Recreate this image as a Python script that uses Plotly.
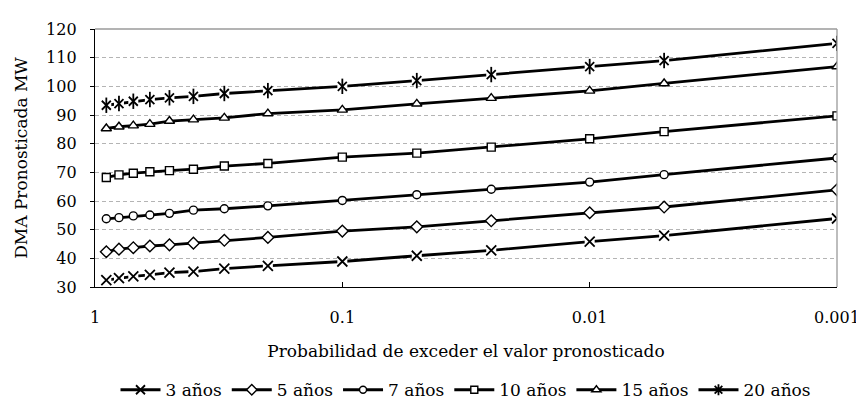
import plotly.graph_objects as go

prob = [0.9, 0.8, 0.7, 0.6, 0.5, 0.4, 0.3, 0.2, 0.1, 0.05, 0.025, 0.01, 0.005, 0.001]

y_3 = [32.4, 33.1, 33.7, 34.2, 35.0, 35.4, 36.4, 37.4, 38.9, 40.9, 42.8, 45.8, 47.9, 53.9]
y_5 = [42.3, 43.2, 43.7, 44.3, 44.7, 45.3, 46.3, 47.3, 49.5, 51.0, 53.1, 55.9, 57.9, 63.9]
y_7 = [53.8, 54.2, 54.8, 55.1, 55.7, 56.8, 57.3, 58.3, 60.2, 62.2, 64.1, 66.6, 69.2, 75.0]
y_10 = [68.2, 69.1, 69.7, 70.2, 70.6, 71.1, 72.2, 73.1, 75.3, 76.7, 78.8, 81.7, 84.2, 89.7]
y_15 = [85.3, 85.9, 86.3, 86.8, 87.9, 88.4, 89.0, 90.5, 91.8, 93.9, 95.9, 98.4, 101.0, 106.9]
y_20 = [93.4, 94.0, 94.8, 95.4, 96.0, 96.5, 97.5, 98.5, 100.0, 102.0, 104.1, 106.9, 109.0, 115.0]

series_names = ["3 años", "5 años", "7 años", "10 años", "15 años", "20 años"]
series_values = [y_3, y_5, y_7, y_10, y_15, y_20]
series_symbols = ["x-thin-open", "diamond-open", "circle-open", "square-open", "triangle-up-open", "asterisk-open"]

tick_vals = [1, 0.1, 0.01, 0.001]
tick_text = ["1", "0.1", "0.01", "0.001"]
y_ticks = [30, 40, 50, 60, 70, 80, 90, 100, 110, 120]

FONT = "DejaVu Serif"
BLACK = "#000000"

sym_style = {
    "x-thin-open": dict(size=10, fill=None, lw=1.8),
    "diamond-open": dict(size=9, fill="white", lw=1.4),
    "circle-open": dict(size=8, fill="white", lw=1.4),
    "square-open": dict(size=8, fill="white", lw=1.4),
    "triangle-up-open": dict(size=9, fill="white", lw=1.4),
    "asterisk-open": dict(size=10, fill=None, lw=1.8),
}

fig = go.Figure()

# lines
for name, vals in zip(series_names, series_values):
    fig.add_trace(go.Scatter(x=prob, y=vals, mode="lines", line=dict(color=BLACK, width=2.8),
                             showlegend=False, hoverinfo="skip"))

# markers
for name, vals, sym in zip(series_names, series_values, series_symbols):
    st = sym_style[sym]
    if st["fill"] is None:
        fig.add_trace(go.Scatter(x=prob, y=vals, mode="markers",
                                 marker=dict(symbol="square", size=10, color="white", line=dict(width=0)),
                                 showlegend=False, hoverinfo="skip"))
        if sym == "asterisk-open":
            fig.add_trace(go.Scatter(x=prob, y=vals, mode="markers",
                                     marker=dict(symbol="x-thin-open", size=9, color=BLACK,
                                                 line=dict(color=BLACK, width=st["lw"])),
                                     showlegend=False, hoverinfo="skip"))
            fig.add_trace(go.Scatter(x=prob, y=vals, mode="markers",
                                     marker=dict(symbol="line-ns-open", size=11, color=BLACK,
                                                 line=dict(color=BLACK, width=st["lw"])),
                                     showlegend=False, hoverinfo="skip"))
            continue
        fig.add_trace(go.Scatter(x=prob, y=vals, mode="markers",
                                 marker=dict(symbol=sym, size=st["size"], color=BLACK,
                                             line=dict(color=BLACK, width=st["lw"])),
                                 showlegend=False))
    else:
        base = sym.replace("-open", "")
        fig.add_trace(go.Scatter(x=prob, y=vals, mode="markers",
                                 marker=dict(symbol=base, size=st["size"], color="white",
                                             line=dict(color=BLACK, width=st["lw"])),
                                 showlegend=False))

# legend entries
for name, sym in zip(series_names, series_symbols):
    st = sym_style[sym]
    if st["fill"] is None:
        mk = dict(symbol=sym, size=st["size"] - 1, color=BLACK, line=dict(color=BLACK, width=st["lw"]))
    else:
        mk = dict(symbol=sym.replace("-open", ""), size=st["size"] - 1, color="white",
                  line=dict(color=BLACK, width=st["lw"]))
    fig.add_trace(go.Scatter(x=[None], y=[None], mode="lines+markers", name=name,
                             line=dict(color=BLACK, width=2.8), marker=mk))

fig.update_layout(
    width=864, height=412,
    margin=dict(l=87, r=26, t=15, b=129),
    paper_bgcolor="white", plot_bgcolor="white",
    font=dict(family=FONT, size=16, color=BLACK),
    legend=dict(orientation="h", x=0.5, xanchor="center", y=-0.40, yanchor="middle",
                font=dict(family=FONT, size=17), itemwidth=40, tracegroupgap=0,
                bgcolor="rgba(0,0,0,0)"),
    xaxis=dict(type="log", range=[0, -3], tickvals=tick_vals, ticktext=tick_text,
               ticks="inside", ticklen=5, tickcolor=BLACK, tickwidth=1,
               showline=True, linecolor=BLACK, linewidth=1.3, showgrid=False, zeroline=False,
               ticklabelstandoff=16, tickfont=dict(family=FONT, size=16),
               title=dict(text="Probabilidad de exceder el valor pronosticado", standoff=18,
                          font=dict(family=FONT, size=17))),
    yaxis=dict(range=[30, 120], tickvals=y_ticks, ticks="outside", ticklen=4, tickcolor=BLACK,
               showline=True, linecolor=BLACK, linewidth=1.3, zeroline=False,
               ticklabelstandoff=10, tickfont=dict(family=FONT, size=16),
               showgrid=True, gridcolor="#b4b4b4", gridwidth=1, griddash="4px,3px",
               title=dict(text="DMA Pronosticada MW", standoff=14, font=dict(family=FONT, size=17))),
    shapes=[
        dict(type="line", xref="paper", yref="paper", x0=0, x1=1, y0=1, y1=1,
             line=dict(color="#9a9a9a", width=1.3)),
        dict(type="line", xref="paper", yref="paper", x0=1, x1=1, y0=0, y1=1,
             line=dict(color="#9a9a9a", width=1.3)),
    ],
)

fig.write_html("out.html")
